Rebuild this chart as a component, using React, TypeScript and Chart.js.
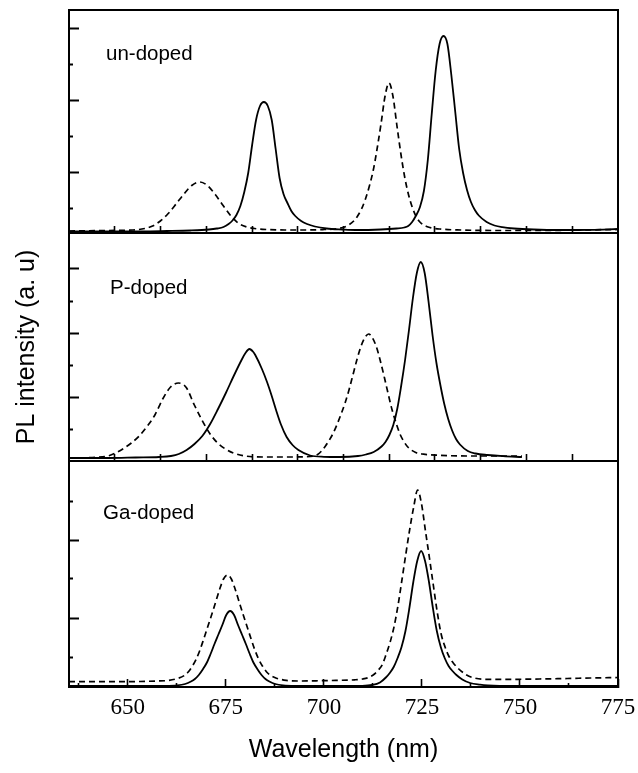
import React, { useEffect, useRef } from 'react';
import { Chart, registerables } from 'chart.js';

Chart.register(...registerables);

// ---------- data (wavelength in nm, PL intensity in a.u.) ----------
const undopedDashWl = [635, 645, 651.3, 654.3, 656.3, 658.3, 660.3, 662.3, 664.3, 666.3, 668.3, 670.3, 672.3, 674.3, 676.3, 678.3, 680.3, 682.3, 685.3, 690, 695, 700, 702.6, 705.6, 707.6, 708.6, 709.6, 710.6, 711.6, 712.6, 713.6, 714.6, 715.6, 716.6, 717.6, 718.6, 719.6, 720.6, 721.6, 722.6, 723.6, 724.6, 726.6, 729.6, 735, 745, 755, 765, 775];
const undopedDashInt = [2, 2.5, 3, 4.5, 7, 12, 19.5, 29, 39, 47.5, 51, 47.5, 38.5, 27.5, 17, 9.5, 6, 4.5, 3.5, 3, 3, 3.5, 4, 6.5, 12, 17, 24, 34, 47, 63, 85, 110, 137, 150, 137, 108, 80, 56, 38, 25, 16, 10.5, 6, 4, 3, 2.5, 2.5, 3, 3.5];

const undopedSolidWl = [635, 650, 660, 666, 670.7, 672.7, 674.4, 675.7, 676.7, 677.7, 678.7, 679.7, 680.7, 681.7, 682.7, 683.7, 684.7, 685.7, 686.7, 687.7, 688.7, 689.7, 690.7, 691.7, 692.7, 694.2, 695.7, 697.7, 700.7, 704.7, 708, 714.5, 718.5, 720.5, 721.5, 722.5, 723.5, 724.5, 725.5, 726.5, 727.5, 728.5, 729.5, 730.5, 731.5, 732.5, 733.5, 734.5, 735.5, 736.5, 737.5, 738.5, 739.5, 741.5, 743.5, 745.5, 748.5, 753.5, 760, 768, 775];
const undopedSolidInt = [1.5, 1.5, 2, 2.5, 3.5, 4.5, 6, 9, 12.5, 18, 27, 41, 60, 88, 113, 127, 131, 127, 113, 84, 55, 39, 30, 22, 17, 12, 9, 6.5, 4.5, 3.5, 3, 3.5, 4.5, 5.5, 7, 11, 17.5, 26, 42, 73, 119, 162, 189, 197, 189, 158, 121, 84, 60, 43, 31, 23, 17.5, 11, 7.5, 5.8, 4.5, 3.5, 3, 3.2, 4];

const pDashWl = [635, 640.9, 644.9, 646.9, 648.9, 650.9, 652.9, 654.9, 656.9, 658.9, 660.9, 662.9, 664.9, 666.9, 668.9, 670.9, 672.9, 674.9, 676.9, 679.9, 684.9, 690, 695.4, 698.4, 699.4, 700.4, 701.4, 702.4, 703.4, 704.4, 705.4, 706.4, 707.4, 708.4, 709.4, 710.4, 711.4, 712.4, 713.4, 714.4, 715.4, 716.4, 717.4, 718.4, 719.4, 720.4, 721.4, 723.4, 725.4, 729.4, 736.4, 750.5];
const pDashInt = [3, 3.5, 5, 8, 12.5, 18, 25, 34.5, 46, 62, 74, 78, 73.5, 56.5, 41, 27.5, 18, 12, 8, 5, 4, 4, 4.2, 6.5, 10, 15, 21, 28, 37, 47, 58, 71, 86, 101, 114, 123, 127, 123, 114, 100, 84, 67, 51, 38, 27, 19.5, 14, 8.5, 6.8, 5.7, 5, 5];

const pSolidWl = [635, 645, 652, 658, 661, 663, 665, 667, 669, 671, 673, 675, 677, 679, 680, 681, 682, 682.5, 684.2, 685.5, 686.7, 687.8, 689, 690.5, 692, 693.5, 696.5, 700, 704, 708.7, 710.7, 712.7, 714.7, 715.7, 716.7, 717.7, 718.7, 719.7, 720.7, 721.7, 722.7, 723.7, 724.7, 725.7, 726.7, 727.7, 728.7, 729.7, 730.7, 731.7, 732.7, 733.7, 734.7, 736.7, 738.7, 741.7, 745.7, 750.5];
const pSolidInt = [3, 3, 3.5, 4, 5, 7, 11, 17, 25, 37, 52, 68, 85, 101, 108, 112, 109, 106, 92, 79, 65, 51, 37, 24, 16, 11, 5.5, 4.2, 4, 5, 6.5, 9, 14.5, 19, 26, 36, 52, 75, 101, 131, 163, 188, 199, 188, 159, 126, 98, 76, 57, 42, 30.5, 22, 16.5, 10, 7.5, 6, 4.8, 4];

const gaDashWl = [635, 645, 653, 657.4, 660.4, 662.9, 664.4, 665.4, 666.4, 667.4, 668.4, 669.4, 670.4, 671.4, 672.4, 673.4, 674.4, 675.4, 676.4, 677.4, 678.4, 679.4, 680.4, 681.4, 682.4, 683.4, 684.4, 685.4, 686.4, 687.9, 690.4, 693.4, 698, 703, 707.9, 709.9, 711.4, 712.9, 713.9, 714.9, 715.9, 716.9, 717.9, 718.9, 719.9, 720.9, 721.9, 722.9, 723.9, 724.9, 725.9, 726.9, 727.9, 728.9, 729.9, 730.9, 731.9, 732.9, 734.4, 736.4, 737.9, 740.7, 748, 755, 762, 768, 775];
const gaDashInt = [5.3, 5.3, 5.5, 6, 6.6, 8.8, 11.5, 15, 20.5, 27.5, 37, 48.5, 60.5, 72.5, 85, 97.5, 108, 112, 108, 97.5, 85, 72.5, 60.5, 48.5, 37, 27.5, 20.5, 15, 11.5, 8.8, 6.6, 6, 6.2, 6.6, 7.2, 8, 9.5, 13, 17, 22.5, 33, 45, 60.5, 81.5, 107, 133, 158, 180, 197, 183, 156, 129.5, 102, 75, 53, 40, 30.5, 24.5, 18, 12, 9.5, 7.7, 7.7, 8, 8.5, 9, 9.5];

const gaSolidWl = [635, 650, 659.1, 662.6, 664.6, 666.1, 667.1, 668.1, 669.1, 670.1, 671.1, 672.1, 673.1, 674.1, 675.1, 676.1, 677.1, 678.1, 679.1, 680.1, 681.1, 682.1, 683.1, 684.1, 685.1, 686.1, 687.6, 689.6, 693.1, 700, 709.8, 712.3, 714.3, 715.8, 716.8, 717.8, 718.8, 719.8, 720.8, 721.8, 722.8, 723.8, 724.8, 725.8, 726.8, 727.8, 728.8, 729.8, 730.8, 731.8, 732.8, 733.8, 735.3, 737.3, 739.8, 741.8, 744.8, 760, 775];
const gaSolidInt = [1, 1, 1.1, 1.6, 3, 5.5, 8, 12, 17.5, 24, 33, 43, 52.5, 62, 72, 76, 72, 62, 52.5, 43, 33, 24, 17.5, 12, 8, 5.5, 3, 1.6, 1.1, 1, 1.2, 2, 4.5, 9.5, 14, 20, 29, 40, 56, 79, 105, 126, 136, 126, 105, 79, 56, 40, 29, 21, 16, 12, 7.5, 4, 2.3, 1.5, 1.1, 1, 1];

const panelNames = ['un-doped', 'P-doped', 'Ga-doped'];

// y ticks of each panel (a.u.), and which of them are the longer marks
const undopedYTicks = [25, 61, 97, 133, 169, 205];
const undopedYLong = [61, 133, 205];
const pYTicks = [32, 64, 96, 128, 160, 193];
const pYLong = [64, 128, 193];
const gaYTicks = [30, 69, 109, 147, 186];
const gaYLong = [69, 147];

// x ticks
const innerXTicks = [646.67, 658.33, 670, 681.67, 693.33, 705, 716.67, 728.33, 740, 751.67, 763.33];
const bottomXTicks = [637.5, 650, 662.5, 675, 687.5, 700, 712.5, 725, 737.5, 750, 762.5, 775];
const labeledXTicks = [650, 675, 700, 725, 750, 775];

const X_MIN = 635;
const X_MAX = 775;

// ---------- layout ----------
const W = 638;
const H = 773;
const PLOT_LEFT = 69;
const PLOT_RIGHT = 618;
const PANEL_EDGES = [10, 233, 461, 687];

const SANS = '"Liberation Sans", Arial, Helvetica, sans-serif';
const SERIF = '"Liberation Serif", "Times New Roman", serif';

function pts(xs: number[], ys: number[]) {
  return xs.map((x, i) => ({ x, y: ys[i] }));
}

type PanelSpec = {
  idx: number;
  dashWl: number[];
  dashInt: number[];
  solidWl: number[];
  solidInt: number[];
  yMax: number;
  yTicks: number[];
  yLong: number[];
};

function noPad(s: any) {
  s.paddingLeft = 0;
  s.paddingRight = 0;
  s.paddingTop = 0;
  s.paddingBottom = 0;
}

function buildConfig(p: PanelSpec): any {
  const top = PANEL_EDGES[p.idx];
  const bottom = PANEL_EDGES[p.idx + 1];
  const isLast = p.idx === 2;
  const xAxisHeight = isLast ? H - bottom : 0;
  const scales: any = {
    x: {
      type: 'linear',
      position: 'bottom',
      min: X_MIN,
      max: X_MAX,
      afterBuildTicks: (s: any) => {
        s.ticks = (isLast ? bottomXTicks : innerXTicks).map((v) => ({ value: v }));
      },
      afterFit: (s: any) => {
        s.height = xAxisHeight;
        noPad(s);
      },
      grid: {
        drawOnChartArea: false,
        drawTicks: true,
        tickLength: isLast ? -8 : -7,
        tickWidth: 1.6,
        tickColor: '#000',
        tickBorderDash: (ctx: any) =>
          isLast && ctx.tick && !labeledXTicks.includes(ctx.tick.value) ? [5, 100] : [],
      },
      border: { display: true, color: '#000', width: 2 },
      ticks: {
        display: isLast,
        autoSkip: false,
        maxRotation: 0,
        padding: 15,
        color: '#000',
        font: { family: SERIF, size: 23 },
        callback: (v: any) => (labeledXTicks.includes(Number(v)) ? String(v) : ''),
      },
      title: {
        display: isLast,
        text: 'Wavelength (nm)',
        color: '#000',
        font: { family: SANS, size: 25 },
        padding: { top: 0, bottom: 8 },
      },
    },
    y: {
      type: 'linear',
      position: 'left',
      min: 0,
      max: p.yMax,
      afterBuildTicks: (s: any) => {
        s.ticks = p.yTicks.map((v) => ({ value: v }));
      },
      afterFit: (s: any) => {
        s.width = PLOT_LEFT;
        noPad(s);
      },
      grid: {
        drawOnChartArea: false,
        drawTicks: true,
        tickLength: -10,
        tickWidth: 2,
        tickColor: '#000',
        tickBorderDash: (ctx: any) =>
          ctx.tick && p.yLong.includes(ctx.tick.value) ? [] : [0, 6, 5, 100],
      },
      border: { display: true, color: '#000', width: 2 },
      ticks: { display: false },
      title: {
        display: p.idx === 1,
        text: 'PL intensity (a. u)',
        color: '#000',
        font: { family: SANS, size: 25 },
        padding: { top: 12, bottom: 0 },
      },
    },
    yRight: {
      type: 'linear',
      position: 'right',
      min: 0,
      max: 1,
      afterFit: (s: any) => {
        s.width = 0;
        noPad(s);
      },
      grid: { display: false },
      ticks: { display: false },
      border: { display: true, color: '#000', width: 2 },
    },
  };
  if (p.idx === 0) {
    scales.xTop = {
      type: 'linear',
      position: 'top',
      min: X_MIN,
      max: X_MAX,
      afterFit: (s: any) => {
        s.height = 0;
        noPad(s);
      },
      grid: { display: false },
      ticks: { display: false },
      border: { display: true, color: '#000', width: 2 },
    };
  }
  return {
    type: 'line',
    data: {
      datasets: [
        {
          label: panelNames[p.idx] + ' dashed',
          data: pts(p.dashWl, p.dashInt),
          borderColor: '#000',
          borderWidth: 1.7,
          borderDash: [6, 4],
          pointRadius: 0,
          fill: false,
          cubicInterpolationMode: 'monotone',
        },
        {
          label: panelNames[p.idx] + ' solid',
          data: pts(p.solidWl, p.solidInt),
          borderColor: '#000',
          borderWidth: 1.8,
          pointRadius: 0,
          fill: false,
          cubicInterpolationMode: 'monotone',
        },
      ],
    },
    options: {
      responsive: false,
      animation: false,
      events: [],
      layout: {
        padding: {
          top: top,
          bottom: H - bottom - xAxisHeight,
          left: 0,
          right: W - PLOT_RIGHT,
        },
      },
      plugins: {
        legend: { display: false },
        tooltip: { enabled: false },
        title: { display: false },
      },
      scales,
    },
  };
}

const panels: PanelSpec[] = [
  { idx: 0, dashWl: undopedDashWl, dashInt: undopedDashInt, solidWl: undopedSolidWl, solidInt: undopedSolidInt, yMax: 223, yTicks: undopedYTicks, yLong: undopedYLong },
  { idx: 1, dashWl: pDashWl, dashInt: pDashInt, solidWl: pSolidWl, solidInt: pSolidInt, yMax: 228, yTicks: pYTicks, yLong: pYLong },
  { idx: 2, dashWl: gaDashWl, dashInt: gaDashInt, solidWl: gaSolidWl, solidInt: gaSolidInt, yMax: 226, yTicks: gaYTicks, yLong: gaYLong },
];

const labelPos = [
  { left: 106, top: 43 },
  { left: 110, top: 277 },
  { left: 103, top: 502 },
];

export default function App() {
  const r0 = useRef<HTMLCanvasElement>(null);
  const r1 = useRef<HTMLCanvasElement>(null);
  const r2 = useRef<HTMLCanvasElement>(null);

  useEffect(() => {
    const refs = [r0, r1, r2];
    const charts = panels.map((p, i) => new Chart(refs[i].current as HTMLCanvasElement, buildConfig(p)));
    return () => charts.forEach((c) => c.destroy());
  }, []);

  const canvasStyle: React.CSSProperties = { position: 'absolute', left: 0, top: 0, width: W, height: H };

  return (
    <div style={{ position: 'absolute', left: 0, top: 0, width: W, height: H, background: '#fff', overflow: 'hidden' }}>
      <canvas ref={r0} width={W} height={H} style={canvasStyle} />
      <canvas ref={r1} width={W} height={H} style={canvasStyle} />
      <canvas ref={r2} width={W} height={H} style={canvasStyle} />
      {panelNames.map((name, i) => (
        <div
          key={name}
          style={{
            position: 'absolute',
            left: labelPos[i].left,
            top: labelPos[i].top,
            fontFamily: SANS,
            fontSize: 20.5,
            lineHeight: '20px',
            color: '#000',
            whiteSpace: 'nowrap',
          }}
        >
          {name}
        </div>
      ))}
    </div>
  );
}
